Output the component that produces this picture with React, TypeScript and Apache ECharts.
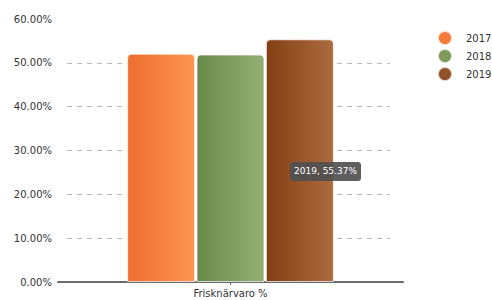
import React, { useEffect, useRef } from "react";
import * as echarts from "echarts";

const categories = ["Frisknärvaro %"];
const seriesNames = ["2017", "2018", "2019"];
const values2017 = [52.1];
const values2018 = [51.9];
const values2019 = [55.37];
const yTicks = [0, 10, 20, 30, 40, 50, 60];

const gradients = [
  ["#EE6F2F", "#FD9552"],
  ["#6A8A49", "#94AF74"],
  ["#843F14", "#AB6B3F"],
];
const legendColors = ["#F37B3B", "#7B9A5B", "#92522A"];

export default function App() {
  const ref = useRef<HTMLDivElement>(null);
  useEffect(() => {
    if (!ref.current) return;
    const chart = echarts.init(ref.current, null, { renderer: "svg" });
    const all = [values2017, values2018, values2019];
    const font = "DejaVu Sans";
    const yMin = yTicks[0];
    const yMax = yTicks[yTicks.length - 1];
    const interval = yTicks[1] - yTicks[0];
    const tipSeries = 2;
    const tipText = `${seriesNames[tipSeries]}, ${all[tipSeries][0].toFixed(2)}%`;
    chart.setOption({
      animation: false,
      textStyle: { fontFamily: font },
      grid: [
        { left: 58, right: 89, top: 19, bottom: 18 },
        { left: 67, right: 102, top: 19, bottom: 18 },
      ],
      legend: {
        orient: "vertical",
        left: 432,
        top: 25,
        itemWidth: 14,
        itemHeight: 14,
        itemGap: 2,
        icon: "circle",
        textStyle: { fontFamily: font, fontSize: 10, color: "#333", padding: [0, 0, 0, 9] },
        data: seriesNames.map((n, i) => ({ name: n, itemStyle: { color: legendColors[i] } })),
      },
      xAxis: [
        {
          type: "category",
          gridIndex: 0,
          data: categories,
          axisLine: { lineStyle: { color: "#6a6a6a", width: 2 } },
          axisTick: { show: true, length: 3, lineStyle: { color: "#555" }, alignWithLabel: true },
          axisLabel: { fontFamily: font, fontSize: 10, color: "#333", margin: 6 },
        },
        {
          type: "category",
          gridIndex: 1,
          data: categories,
          show: false,
        },
      ],
      yAxis: [
        {
          type: "value",
          gridIndex: 0,
          min: yMin,
          max: yMax,
          interval,
          axisLine: { show: false },
          axisTick: { show: false },
          splitLine: { show: false },
          axisLabel: {
            fontFamily: font,
            fontSize: 10,
            color: "#333",
            margin: 6,
            formatter: (v: number) => v.toFixed(2) + "%",
          },
        },
        {
          type: "value",
          gridIndex: 1,
          min: yMin,
          max: yMax,
          interval,
          axisLine: { show: false },
          axisTick: { show: false },
          axisLabel: { show: false },
          splitLine: {
            show: true,
            lineStyle: {
              type: [5, 5],
              width: 1,
              color: yTicks.map((t, i) =>
                i === 0 || i === yTicks.length - 1 ? "rgba(0,0,0,0)" : "#b8b8b8"
              ),
            },
          },
        },
      ],
      series: [
        {
          type: "bar",
          xAxisIndex: 1,
          yAxisIndex: 1,
          data: [],
          silent: true,
        },
        ...seriesNames.map((name, i) => ({
          type: "bar",
          name,
          xAxisIndex: 0,
          yAxisIndex: 0,
          data: all[i],
          barWidth: 68,
          barGap: "2%",
          z: 3,
          itemStyle: {
            borderRadius: [4, 4, 0, 0],
            borderColor: "rgba(255,255,255,0.7)",
            borderWidth: 1,
            color: new echarts.graphic.LinearGradient(0, 0, 1, 0, [
              { offset: 0, color: gradients[i][0] },
              { offset: 1, color: gradients[i][1] },
            ]),
          },
        })),
      ],
      graphic: [
        {
          type: "rect",
          left: 290,
          top: 162,
          z: 100,
          shape: { x: 0, y: 0, width: 71, height: 19, r: 3 },
          style: { fill: "rgba(80,80,80,0.92)" },
        },
        {
          type: "text",
          left: 294,
          top: 166.5,
          z: 101,
          style: {
            text: tipText,
            fill: "#fff",
            font: `9px '${font}'`,
          },
        },
      ],
    });
    return () => chart.dispose();
  }, []);
  return <div ref={ref} style={{ width: 492, height: 300, position: "absolute", left: 0, top: 0 }} />;
}
